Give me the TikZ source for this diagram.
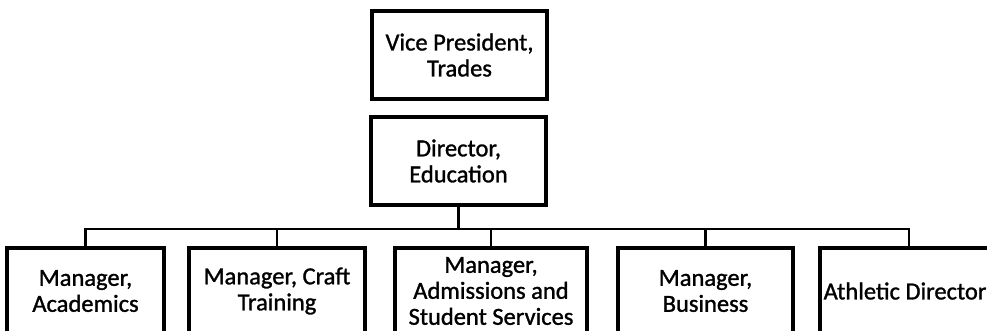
\documentclass[tikz,border=0pt]{standalone}
\usepackage{fontspec}
\setmainfont{Carlito}[FakeBold=1.2]
\begin{document}
\begin{tikzpicture}[x=1pt,y=-1pt,
  orgbox/.style={draw, line width=3.6pt, inner sep=0pt, align=center,
    font=\fontsize{24.5}{26}\selectfont, minimum height=88pt},
  lowbox/.style={orgbox, minimum height=86pt},
  conn/.style={line width=2.6pt}]
\useasboundingbox (0,0) rectangle (987,331);
\clip (0,0) rectangle (987,331);
\node[orgbox, minimum width=175pt] (vp) at (459.5,55) {Vice President,\\Trades};
\node[orgbox, minimum width=175pt] (dir) at (458.5,161) {Director,\\Education};
\node[lowbox, minimum width=157pt] (aca) at (85.5,291) {Manager,\\Academics};
\node[lowbox, minimum width=176pt] (craft) at (277,291) {Manager, Craft\\Training};
\node[lowbox, minimum width=192pt] (adm) at (491,291) {Manager,\\Admissions and\\Student Services};
\node[lowbox, minimum width=175pt] (bus) at (705.5,291) {Manager,\\Business};
\node[lowbox, minimum width=170pt] (ath) at (905,291) {Athletic Director};
\coordinate (j) at (458.5,229);
\draw[conn] (dir.south) -- (j);
\foreach \c in {aca,craft,adm,bus} { \draw[conn] (j) -| (\c.north); }
\draw[conn] (j) -| ([xshift=4pt]ath.north);
\end{tikzpicture}
\end{document}
